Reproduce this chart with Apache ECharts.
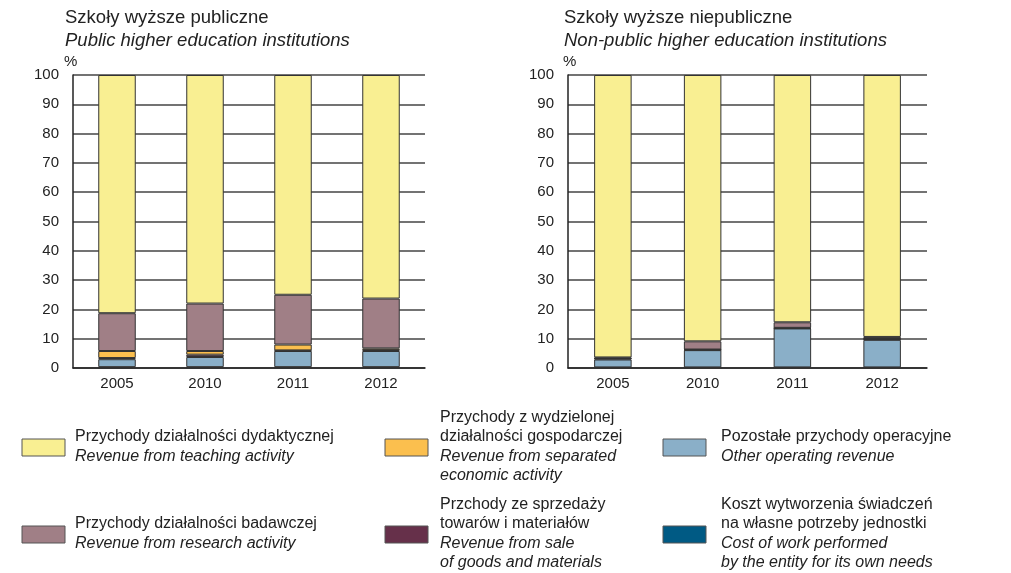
<!DOCTYPE html>
<html><head><meta charset="utf-8">
<script src="https://cdn.jsdelivr.net/npm/echarts@6/dist/echarts.min.js"></script>
<style>html,body{margin:0;padding:0;background:#fff}#c{width:1011px;height:573px}</style>
</head><body><div id="c"></div>
<script>
const years = ['2005', '2010', '2011', '2012'];
const yTicks = [0, 10, 20, 30, 40, 50, 60, 70, 80, 90, 100];

// Public higher education institutions (%), stacked bottom to top
const pubCost      = [0.3, 0.3, 0.3, 0.3];
const pubOther     = [2.7, 3.45, 5.5, 5.5];
const pubSale      = [0.4, 0.8, 0.2, 0.3];
const pubSeparated = [2.4, 1.25, 2.0, 0.6];
const pubResearch  = [12.9, 16.2, 17.0, 17.0];
const pubTeaching  = [81.3, 78.0, 75.0, 76.3];

// Non-public higher education institutions (%)
const npCost      = [0.2, 0.2, 0.2, 0.2];
const npOther     = [2.7, 5.9, 13.3, 9.4];
const npSale      = [0.3, 0.1, 0.1, 0.3];
const npSeparated = [0.1, 0.1, 0.1, 0.0];
const npResearch  = [0.3, 2.8, 1.9, 0.7];
const npTeaching  = [96.4, 90.9, 84.4, 89.4];

const titles = [
  ['Szkoły wyższe publiczne', 'Public higher education institutions'],
  ['Szkoły wyższe niepubliczne', 'Non-public higher education institutions']
];

const legendItems = [
  {pl: ['Przychody działalności dydaktycznej'], en: ['Revenue from teaching activity']},
  {pl: ['Przychody z wydzielonej', 'działalności gospodarczej'], en: ['Revenue from separated', 'economic activity']},
  {pl: ['Pozostałe przychody operacyjne'], en: ['Other operating revenue']},
  {pl: ['Przychody działalności badawczej'], en: ['Revenue from research activity']},
  {pl: ['Przchody ze sprzedaży', 'towarów i materiałów'], en: ['Revenue from sale', 'of goods and materials']},
  {pl: ['Koszt wytworzenia świadczeń', 'na własne potrzeby jednostki'], en: ['Cost of work performed', 'by the entity for its own needs']}
];

const C = {
  teaching: '#f9ef92', research: '#a07f86', separated: '#fbbf4e',
  other: '#8aafc8', sale: '#66304a', cost: '#005a84'
};
const FONT = '"Liberation Sans", Arial, sans-serif';

const stackOrder = [
  ['cost', pubCost, npCost], ['other', pubOther, npOther], ['sale', pubSale, npSale],
  ['separated', pubSeparated, npSeparated], ['research', pubResearch, npResearch],
  ['teaching', pubTeaching, npTeaching]
];

const series = [];
[0, 1].forEach(g => {
  stackOrder.forEach(([key, a, b]) => {
    series.push({
      type: 'bar', name: key, xAxisIndex: g, yAxisIndex: g, stack: 's' + g,
      data: g === 0 ? a : b, barWidth: 37.5,
      itemStyle: {color: C[key], borderColor: '#333', borderWidth: 1},
      emphasis: {disabled: true}, animation: false
    });
  });
});

const grids = [
  {left: 73, top: 75, width: 352, height: 293},
  {left: 568, top: 75, width: 359, height: 293}
];

const xAxis = [0, 1].map(g => ({
  type: 'category', gridIndex: g, data: years,
  axisLine: {lineStyle: {color: '#222', width: 1.5}},
  axisTick: {show: false},
  axisLabel: {color: '#222', fontSize: 15, fontFamily: FONT, margin: 8}
}));
const yAxis = [0, 1].map(g => ({
  type: 'value', gridIndex: g, min: yTicks[0], max: yTicks[yTicks.length - 1], interval: yTicks[1] - yTicks[0],
  axisLine: {show: true, lineStyle: {color: '#222', width: 1.5}},
  axisTick: {show: false},
  axisLabel: {color: '#222', fontSize: 15, fontFamily: FONT, margin: 14},
  splitLine: {lineStyle: {color: '#444', width: 1.5}}
}));

const graphic = [];
const titleX = [65, 564];
titles.forEach((t, i) => {
  graphic.push({type: 'text', left: titleX[i], top: 8, style: {text: t[0], font: '18.5px ' + FONT, fill: '#222'}});
  graphic.push({type: 'text', left: titleX[i], top: 31, style: {text: t[1], font: 'italic 18.5px ' + FONT, fill: '#222'}});
  graphic.push({type: 'text', left: titleX[i] - 1, top: 54, style: {text: '%', font: '15px ' + FONT, fill: '#222'}});
});

const legColors = [C.teaching, C.separated, C.other, C.research, C.sale, C.cost];
const colX = [22, 385, 663];
const rowRectY = [439, 526];
const textX = [75, 440, 721];
legendItems.forEach((it, i) => {
  const col = i % 3, row = Math.floor(i / 3);
  const ry = rowRectY[row];
  graphic.push({type: 'rect', shape: {x: colX[col], y: ry, width: 43, height: 17},
    style: {fill: legColors[i], stroke: '#555', lineWidth: 1}});
  const lines = it.pl.map(s => [s, false]).concat(it.en.map(s => [s, true]));
  const lh = 19.3;
  const cy = ry + 8.5 - 1;
  const y0 = cy - (lines.length - 1) * lh / 2;
  lines.forEach(([s, ital], k) => {
    graphic.push({type: 'text', x: textX[col], y: y0 + k * lh,
      style: {text: s, font: (ital ? 'italic ' : '') + '16px ' + FONT, fill: '#222', textVerticalAlign: 'middle'}});
  });
});

const chart = echarts.init(document.getElementById('c'), null, {renderer: 'canvas'});
chart.setOption({
  animation: false, backgroundColor: '#fff',
  grid: grids, xAxis, yAxis, series, graphic
});
</script></body></html>
